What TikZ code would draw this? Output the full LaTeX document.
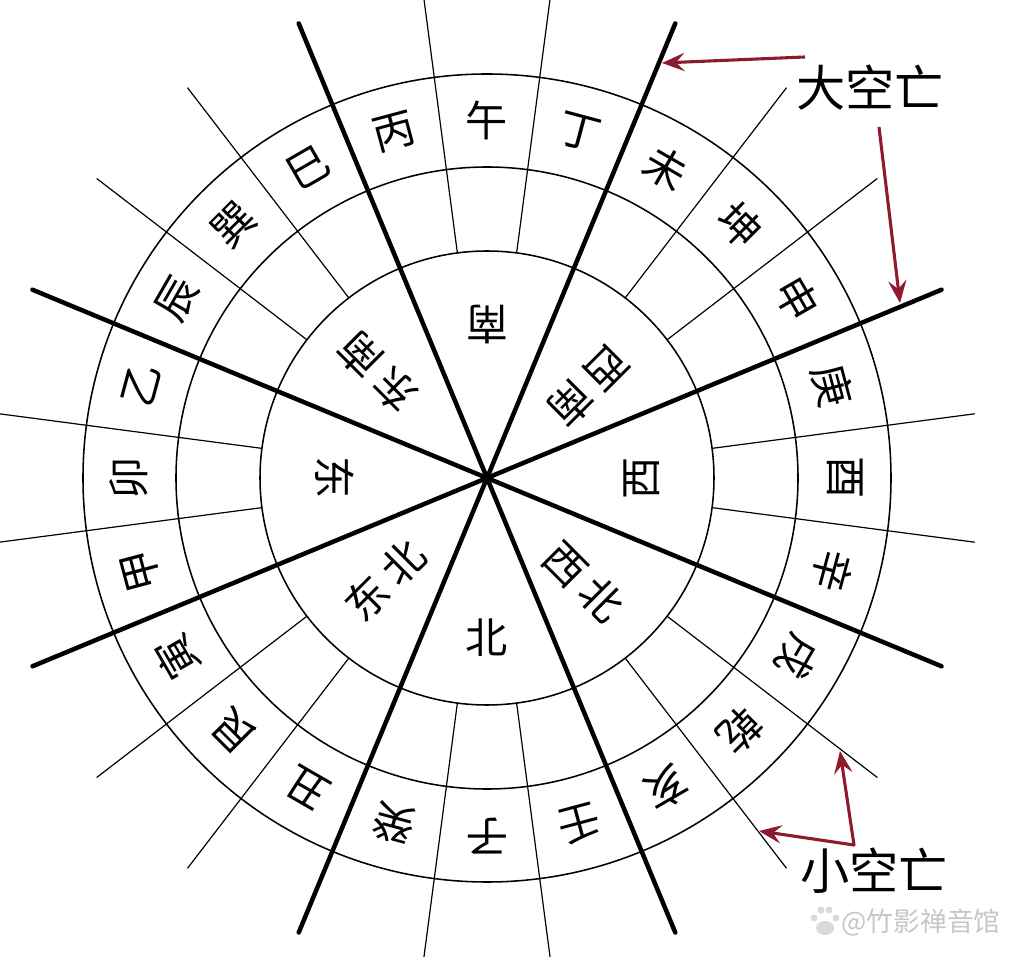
\documentclass[tikz,border=0pt]{standalone}
\usepackage{fontspec}
\setmainfont{Noto Sans CJK SC}
\usetikzlibrary{arrows.meta}
\definecolor{kwred}{HTML}{8E1A2E}

\tikzset{
    ring/.style={line width=1.1pt},
    spoke/.style={line width=0.85pt},
    axis/.style={line width=3.2pt, line cap=round},
    shan/.style={font=\fontsize{30}{30}\selectfont, inner sep=0pt},
    fang/.style={font=\fontsize{30}{30}\selectfont, inner sep=0pt},
    tag/.style={font=\fontsize{35}{35}\selectfont, inner sep=0pt},
    wmark/.style={font=\fontsize{19}{19}\selectfont, text=black!22, inner sep=0pt},
    pointer/.style={kwred, line width=2.2pt, line join=round,
        arrows={-Stealth[length=16pt, width=13pt, inset=6pt]}},
}
\newcommand{\fgap}{\hspace{6pt}}

\begin{document}
\begin{tikzpicture}[x=0.025cm, y=0.025cm]

    \useasboundingbox (-487,-479) rectangle (536,478);
    \clip (-487,-479) rectangle (536,478);
    \fill[white] (-487,-479) rectangle (536,478);

    \coordinate (c) at (0,0); % centre of the plate

    % rings
    \draw[ring] (c) circle[radius=227]; % inner ring
    \draw[ring] (c) circle[radius=311]; % middle ring
    \draw[ring] (c) circle[radius=404]; % outer ring

    % thin spokes between the 24 mountains
    \foreach \a in {7.5,37.5,52.5,82.5,97.5,127.5,142.5,172.5,
                    187.5,217.5,232.5,262.5,277.5,307.5,322.5,352.5}
        \draw[spoke] (\a:227) -- (\a:492);

    % thick lines between the eight directions
    \foreach \a in {22.5,67.5,112.5,157.5}
        \draw[axis] (\a:492) -- (c) -- (\a+180:492);

    % the 24 mountains, 15 degrees apart, top of each glyph outward
    \foreach \ch [count=\i from 0, evaluate=\i as \a using 90-15*\i] in
        {午,丁,未,坤,申,庚,酉,辛,戌,乾,亥,壬,子,癸,丑,艮,寅,甲,卯,乙,辰,巽,巳,丙}
        \node[shan, rotate=\a-90] (s\i) at (\a:358) {\ch};

    % eight directions in the inner ring
    \node[fang, rotate=180] (S) at (90:153) {南};
    \node[fang] (N) at (-90:160) {北};
    \node[fang, rotate=-90] (E) at (180:152) {东};
    \node[fang, rotate=90] (W) at (0:155) {西};
    \node[fang, rotate=135] (SE) at (136:152) {东\fgap 南};
    \node[fang, rotate=225] (SW) at (42:137) {西\fgap 南};
    \node[fang, rotate=45] (NE) at (225:144) {东\fgap 北};
    \node[fang, rotate=-45] (NW) at (313:142) {西\fgap 北};

    % labels and their pointers
    \node[tag] (dkw) at (383,390) {大空亡}; % big void
    \node[tag] (xkw) at (387,-393) {小空亡}; % small void

    \coordinate (dkw1) at (318,421); % tail, left pointer
    \coordinate (dkw2) at (392,351); % tail, down pointer
    \coordinate (t675) at (175,415); % on the 67.5 line
    \coordinate (t225) at (413,175); % on the 22.5 line
    \coordinate (xkw0) at (367,-367); % corner of the small pointers
    \coordinate (t375) at (353,-273); % on the -37.5 spoke
    \coordinate (t525) at (272,-353); % on the -52.5 spoke

    \draw[pointer] (dkw1) -- (t675);
    \draw[pointer] (dkw2) -- (t225);
    \draw[pointer, arrows={Stealth[length=16pt, width=13pt, inset=6pt]-Stealth[length=16pt, width=13pt, inset=6pt]}]
        (t525) -- (xkw0) -- (t375);

    % watermark with its paw
    \fill[black!15] (338,-450) ellipse[x radius=9, y radius=7];
    \foreach \p in {(327,-440),(334,-432),(342,-432),(349,-440)}
        \fill[black!15] \p circle[radius=3.5];
    \node[wmark] (wm) at (434,-444) {@竹影禅音馆};

\end{tikzpicture}
\end{document}
